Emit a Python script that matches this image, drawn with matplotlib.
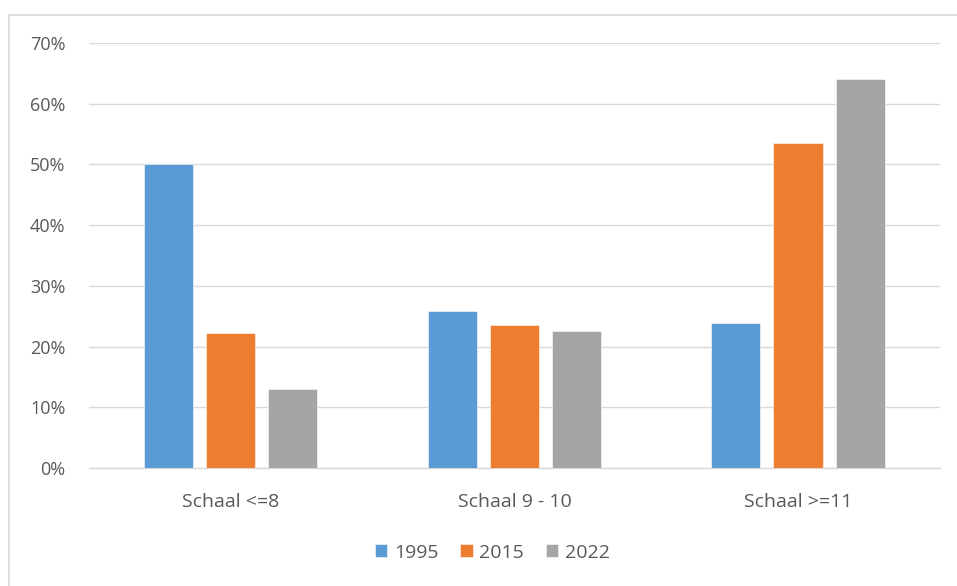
import numpy as np
import matplotlib
matplotlib.use("Agg")
import matplotlib.pyplot as plt
from matplotlib.patches import Rectangle
from matplotlib.ticker import PercentFormatter

categories = ["Schaal <=8", "Schaal 9 - 10", "Schaal >=11"]
years = ["1995", "2015", "2022"]
values_1995 = [50.0, 25.9, 23.8]
values_2015 = [22.2, 23.6, 53.5]
values_2022 = [13.0, 22.6, 64.0]
colors = ["#5B9BD5", "#ED7D31", "#A5A5A5"]

plt.rcParams['font.family'] = ['Open Sans', 'DejaVu Sans']

fig = plt.figure(figsize=(9.57, 5.86), dpi=100)
ax = fig.add_axes([0.093, 0.2014, 0.889, 0.7252])

# chart area border (clipped at right/bottom like the screenshot)
fig.patches.append(Rectangle((9 / 957, -0.05), 1.1, 1 - 15 / 586 + 0.05,
                             transform=fig.transFigure, fill=False,
                             edgecolor="#d9d9d9", linewidth=1.2, zorder=0))

x = np.arange(len(categories))
width = 0.173
step = 0.219
series = [values_1995, values_2015, values_2022]
for i, (vals, year, col) in enumerate(zip(series, years, colors)):
    ax.bar(x + (i - 1) * step, np.array(vals) / 100, width, color=col,
           label=year, edgecolor="white", linewidth=0.4, zorder=3)

ax.set_xlim(-0.5, 2.5)
ax.set_ylim(0, 0.7)
ax.set_yticks(np.arange(0, 0.71, 0.1))
ax.yaxis.set_major_formatter(PercentFormatter(1.0, decimals=0))
ax.grid(axis="y", color="#d9d9d9", linewidth=1.0, zorder=0)
ax.set_axisbelow(True)

for s in ["top", "right", "left"]:
    ax.spines[s].set_visible(False)
ax.spines["bottom"].set_color("#d9d9d9")
ax.spines["bottom"].set_linewidth(1.0)

ax.set_xticks(x)
ax.set_xticklabels(categories)
ax.tick_params(axis="both", length=0, labelcolor="#595959")
ax.tick_params(axis="y", labelsize=13, pad=17)
ax.tick_params(axis="x", labelsize=14, pad=18)

leg = ax.legend(loc="upper center", bbox_to_anchor=(0.474, -0.137), ncol=3,
                frameon=False, fontsize=14, handlelength=0.65,
                handleheight=0.65, handletextpad=0.35, columnspacing=1.1)
for t in leg.get_texts():
    t.set_color("#595959")

fig.savefig("out.png", dpi=100)
